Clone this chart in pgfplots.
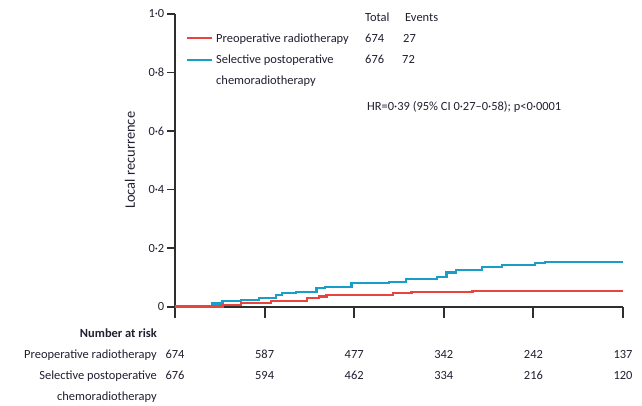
\documentclass[border=0pt]{standalone}
\usepackage{fontspec}
\setmainfont{Carlito}
\usepackage{pgfplots}
\pgfplotsset{compat=1.18}
\definecolor{myred}{RGB}{234,66,60}
\definecolor{myblue}{RGB}{24,158,200}
\definecolor{txt}{RGB}{34,30,48}
\pgfplotstableread{
t v
0 0
0.41 0.010
0.53 0.020
0.74 0.023
0.94 0.028
1.13 0.039
1.19 0.047
1.35 0.050
1.58 0.062
1.67 0.066
1.97 0.079
2.39 0.085
2.58 0.093
2.92 0.102
3.03 0.116
3.14 0.125
3.43 0.134
3.65 0.142
4.02 0.150
4.13 0.152
5.00 0.152
}\postop
\pgfplotstableread{
t v
0 0
0.53 0.004
0.74 0.011
1.07 0.019
1.47 0.028
1.61 0.034
1.69 0.039
2.43 0.045
2.64 0.049
3.32 0.053
5.00 0.053
}\preop
\begin{document}
\begin{tikzpicture}[x=1bp,y=1bp,font=\fontsize{12.5}{15}\selectfont,every node/.style={text=txt}]
\useasboundingbox (0,0) rectangle (642,405);
\begin{axis}[
  at={(175bp,98.5bp)}, anchor=south west,
  scale only axis, width=448bp, height=292.5bp,
  xmin=0, xmax=5, ymin=0, ymax=1,
  axis x line*=bottom, axis y line*=left,
  axis line style={line width=2pt, color=black!82},
  tick align=outside,
  major tick length=8bp,
  every tick/.style={line width=2pt, color=black!82},
  xtick={0,1,2,3,4,5}, xticklabels={},
  ytick={0,0.2,0.4,0.6,0.8,1}, yticklabels={0,0·2,0·4,0·6,0·8,1·0},
  xtick style={/pgfplots/major tick length=11bp},
  ytick style={/pgfplots/major tick length=8bp},
  yticklabel style={font=\fontsize{12.5}{15}\selectfont, text=txt, inner sep=0pt, xshift=-2.5bp},
  ylabel={Local recurrence},
  ylabel style={at={(axis description cs:-0.1004,0.5)}, anchor=center, font=\fontsize{14.5}{16}\selectfont, text=txt},
  clip=false,
]
\addplot[const plot, myblue, line width=2.2pt] table[x=t,y=v] {\postop};
\addplot[const plot, myred, line width=2.2pt] table[x=t,y=v] {\preop};
\foreach \xx/\a/\b in {0/674/676, 1/587/594, 2/477/462, 3/342/334, 4/242/216, 5/137/120}{
  \edef\tmp{\noexpand\node[anchor=base, inner sep=0] at (axis cs:\xx,-0.178) {\a};
            \noexpand\node[anchor=base, inner sep=0] at (axis cs:\xx,-0.250) {\b};}
  \tmp
}
\end{axis}
% legend
\draw[myred, line width=1.8pt] (187,367) -- (212,367);
\draw[myblue, line width=1.8pt] (187,345) -- (212,345);
\node[anchor=base west, inner sep=0] at (216,362.5) {Preoperative radiotherapy};
\node[anchor=base west, inner sep=0] at (216,341.5) {Selective postoperative};
\node[anchor=base west, inner sep=0] at (216,320.5) {chemoradiotherapy};
\node[anchor=base west, inner sep=0] at (365,383.5) {Total};
\node[anchor=base west, inner sep=0] at (405,383.5) {Events};
\node[anchor=base west, inner sep=0] at (365,362.5) {674};
\node[anchor=base west, inner sep=0] at (403,362.5) {27};
\node[anchor=base west, inner sep=0] at (365,341.5) {676};
\node[anchor=base west, inner sep=0] at (402,341.5) {72};
\node[anchor=base west, inner sep=0] at (367,294.5) {HR=0·39 (95\% CI 0·27–0·58); p<0·0001};
% number at risk labels
\node[anchor=base east, inner sep=0, font=\fontsize{12.5}{15}\selectfont\bfseries] at (157,67.5) {Number at risk};
\node[anchor=base east, inner sep=0] at (157,46.5) {Preoperative radiotherapy};
\node[anchor=base east, inner sep=0] at (157,25.5) {Selective postoperative};
\node[anchor=base east, inner sep=0] at (157,4.5) {chemoradiotherapy};
\end{tikzpicture}
\end{document}
